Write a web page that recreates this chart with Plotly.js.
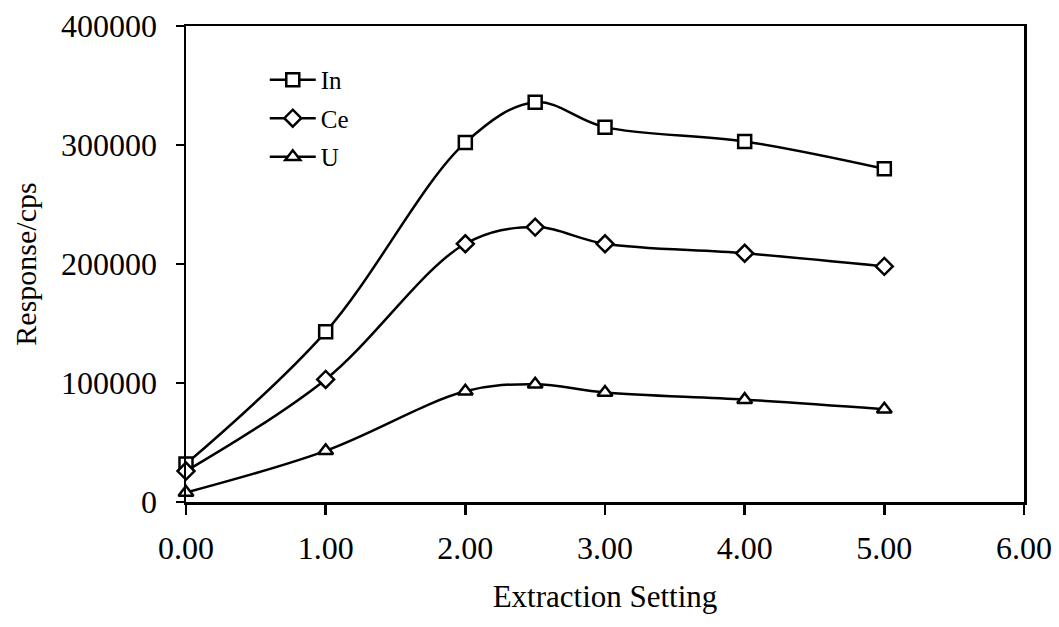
<!DOCTYPE html>
<html>
<head>
<meta charset="utf-8">
<script src="https://cdn.plot.ly/plotly-3.0.1.min.js"></script>
<style>html,body{margin:0;padding:0;background:#fff;}</style>
</head>
<body>
<div id="chart" style="width:1059px;height:627px;"></div>
<script>
const extraction = [0, 1, 2, 2.5, 3, 4, 5];
const inValues = [32000, 143000, 302000, 336000, 315000, 303000, 280000];
const ceValues = [26000, 103000, 217000, 231000, 217000, 209000, 198000];
const uValues = [8000, 43000, 93000, 99000, 92000, 86000, 78000];
const xTickVals = [0, 1, 2, 3, 4, 5, 6];
const xTickText = ["0.00", "1.00", "2.00", "3.00", "4.00", "5.00", "6.00"];
const yTickVals = [0, 100000, 200000, 300000, 400000];
const yTickText = ["0", "100000", "200000", "300000", "400000"];

const FONT = "Liberation Serif, Times New Roman, serif";
function series(name, y, symbol, size) {
  return {
    x: extraction, y: y, name: name, type: "scatter", mode: "lines+markers",
    legendgroup: name,
    line: {color: "#000", width: 2.5, shape: "spline", smoothing: 1},
    marker: {symbol: symbol, size: size, color: "#fff", line: {color: "#000", width: 2.5}},
    cliponaxis: false
  };
}
const data = [
  series("In", inValues, "square", 13),
  series("Ce", ceValues, "diamond", 13),
  series("U", uValues, "triangle-up", 13)
];
const layout = {
  width: 1059, height: 627,
  margin: {l: 186, r: 35, t: 26, b: 125},
  paper_bgcolor: "#fff", plot_bgcolor: "#fff",
  font: {family: FONT, color: "#000", size: 26},
  showlegend: true,
  legend: {x: 0.094, y: 0.935, xanchor: "left", yanchor: "top", traceorder: "grouped",
           bgcolor: "rgba(0,0,0,0)", font: {family: FONT, size: 25}, tracegroupgap: 3,
           itemwidth: 46},
  xaxis: {
    range: [0, 6], tickvals: xTickVals, ticktext: xTickText,
    showgrid: false, zeroline: false, showline: true, linecolor: "#000", linewidth: 2.5,
    mirror: true, ticks: "outside", ticklen: 10, tickwidth: 2.5, tickcolor: "#000",
    ticklabelstandoff: 6,
    tickfont: {family: FONT, size: 32},
    title: {text: "Extraction Setting", font: {family: FONT, size: 31}, standoff: 21}
  },
  yaxis: {
    range: [0, 400000], tickvals: yTickVals, ticktext: yTickText,
    showgrid: false, zeroline: false, showline: true, linecolor: "#000", linewidth: 2.5,
    mirror: true, ticks: "outside", ticklen: 8, tickwidth: 2.5, tickcolor: "#000",
    ticklabelstandoff: 12,
    tickfont: {family: FONT, size: 32},
    title: {text: "Response/cps", font: {family: FONT, size: 30}, standoff: 16}
  }
};
Plotly.newPlot("chart", data, layout, {displayModeBar: false, staticPlot: true});
</script>
</body>
</html>
